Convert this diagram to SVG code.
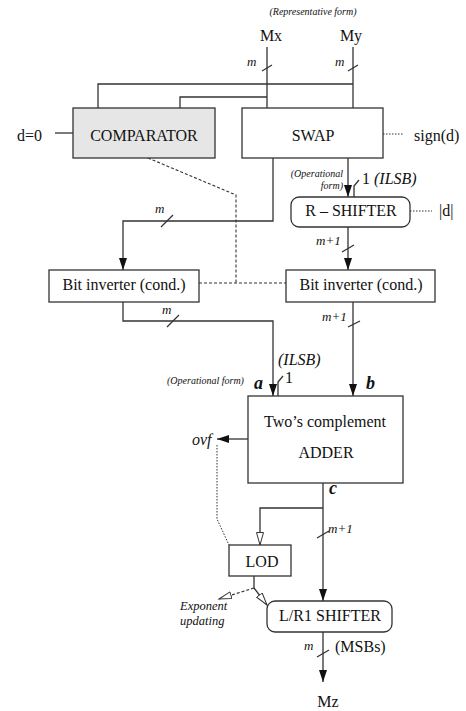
<svg xmlns="http://www.w3.org/2000/svg" width="466" height="711" viewBox="0 0 466 711">
<defs>
<style>
.ln{fill:none;stroke:#333;stroke-width:1.3}
.dot{fill:none;stroke:#333;stroke-width:1;stroke-dasharray:1.5 1.5}
.dash{fill:none;stroke:#333;stroke-width:1.1;stroke-dasharray:3 2}
.box{fill:#fff;stroke:#333;stroke-width:1.3}
.gray{fill:#e6e6e6}
.t{font-family:"Liberation Serif","DejaVu Serif",serif;font-size:16px;fill:#111}
.m{text-anchor:middle}
.e{text-anchor:end}
.i{font-style:italic}
.sm{font-size:10px;font-style:italic}
.lab{font-size:13px;font-style:italic}
.bi{font-size:18px;font-style:italic;font-weight:bold}
.ex{font-size:12.5px;font-style:italic}
</style>
<marker id="ah" markerUnits="userSpaceOnUse" markerWidth="14" markerHeight="10" refX="12" refY="4" orient="auto">
<path d="M0,0 L12,4 L0,8 Z" fill="#111"/>
</marker>
<marker id="oh" markerUnits="userSpaceOnUse" markerWidth="16" markerHeight="10" refX="13" refY="4" orient="auto">
<path d="M0.5,0.5 L13,4 L0.5,7.5 Z" fill="#fff" stroke="#333" stroke-width="1"/>
</marker>
</defs>
<g id="connectors">
<path class="ln" d="M267,47 V108"/>
<path class="ln" d="M353,47 V108"/>
<path class="ln" d="M262,71 L272,65"/>
<path class="ln" d="M348,71 L358,65"/>
<path class="ln" d="M98,108 V84 H353"/>
<path class="ln" d="M180,108 V97 H267"/>
<path class="ln" d="M55,133 H73"/>
<path class="dot" d="M383,134 H403"/>
<path class="ln" d="M348,158 V197" marker-end="url(#ah)"/>
<path class="ln" d="M354,197 V186 L359,180"/>
<path class="dot" d="M410,211 H432"/>
<path class="ln" d="M273,158 V221 H123 V270" marker-end="url(#ah)"/>
<path class="ln" d="M161,227 L173,215"/>
<path class="ln" d="M348,227 V270" marker-end="url(#ah)"/>
<path class="ln" d="M342,252 L354,245"/>
<path class="dash" d="M148,158 L236,195 V283"/>
<path class="dash" d="M199,283 H286"/>
<path class="ln" d="M123,302 V321 H273 V396" marker-end="url(#ah)"/>
<path class="ln" d="M167,327 L179,315"/>
<path class="ln" d="M353,302 V396" marker-end="url(#ah)"/>
<path class="ln" d="M348,327 L360,321"/>
<path class="ln" d="M278,396 V382 L283,376"/>
<path class="ln" d="M248,439 H217" marker-end="url(#ah)"/>
<path class="dot" d="M217,445 V519 L229,545"/>
<path class="ln" d="M323,483 V601" marker-end="url(#ah)"/>
<path class="ln" d="M323,508 H260 V545" marker-end="url(#oh)"/>
<path class="ln" d="M317,538 L329,531"/>
<path class="ln" d="M254,576 V588 L267,605" marker-end="url(#oh)"/>
<path class="dash" d="M254,588 L219,599" marker-end="url(#oh)"/>
<path class="ln" d="M323,632 V682" marker-end="url(#ah)"/>
<path class="ln" d="M317,657 L329,650"/>
</g>
<g id="labels">
<text class="t sm m" x="313" y="15">(Representative form)</text>
<text class="t m" x="271" y="41">Mx</text>
<text class="t m" x="351" y="41">My</text>
<text class="t lab" x="247" y="66">m</text>
<text class="t lab" x="335" y="66">m</text>
<text class="t" x="17" y="141">d=0</text>
<text class="t" x="414" y="141">sign(d)</text>
<text class="t sm e" x="343" y="177">(Operational</text>
<text class="t sm e" x="343" y="189">form)</text>
<text class="t" x="362" y="184">1 <tspan font-style="italic">(ILSB)</tspan></text>
<text class="t" x="439" y="216">|d|</text>
<text class="t lab" x="155" y="213">m</text>
<text class="t lab" x="316" y="245">m+1</text>
<text class="t lab" x="162" y="314">m</text>
<text class="t lab" x="322" y="321">m+1</text>
<text class="t i" x="278" y="365">(ILSB)</text>
<text class="t" x="285" y="383">1</text>
<text class="t sm" x="167" y="384">(Operational form)</text>
<text class="t bi" x="254" y="389">a</text>
<text class="t bi" x="366" y="389">b</text>
<text class="t i" x="192" y="445">ovf</text>
<text class="t bi" x="329" y="494">c</text>
<text class="t lab" x="328" y="533">m+1</text>
<text class="t ex" x="180" y="610">Exponent</text>
<text class="t ex" x="180" y="624.5">updating</text>
<text class="t lab" x="304" y="650">m</text>
<text class="t" x="335" y="652">(MSBs)</text>
<text class="t m" x="328" y="707">Mz</text>
</g>
<g id="comparator">
<rect class="box gray" x="73" y="108" width="142" height="50"/>
<text class="t m" x="144" y="141">COMPARATOR</text>
</g>
<g id="swap">
<rect class="box" x="242" y="108" width="141" height="50"/>
<text class="t m" x="313" y="141">SWAP</text>
</g>
<g id="rshifter">
<rect class="box" x="291" y="197" width="119" height="30" rx="8"/>
<text class="t m" x="351" y="216">R – SHIFTER</text>
</g>
<g id="bitinv1">
<rect class="box" x="49" y="270" width="150" height="32"/>
<text class="t m" x="124" y="290">Bit inverter (cond.)</text>
</g>
<g id="bitinv2">
<rect class="box" x="286" y="270" width="149" height="32"/>
<text class="t m" x="361" y="290">Bit inverter (cond.)</text>
</g>
<g id="adder">
<rect class="box" x="248" y="396" width="155" height="87"/>
<text class="t m" x="325" y="427">Two’s complement</text>
<text class="t m" x="326" y="458">ADDER</text>
</g>
<g id="lod">
<rect class="box" x="229" y="545" width="62" height="31"/>
<text class="t m" x="262" y="567">LOD</text>
</g>
<g id="lr1shifter">
<rect class="box" x="267" y="601" width="125" height="31" rx="8"/>
<text class="t m" x="330" y="621">L/R1 SHIFTER</text>
</g>
</svg>
